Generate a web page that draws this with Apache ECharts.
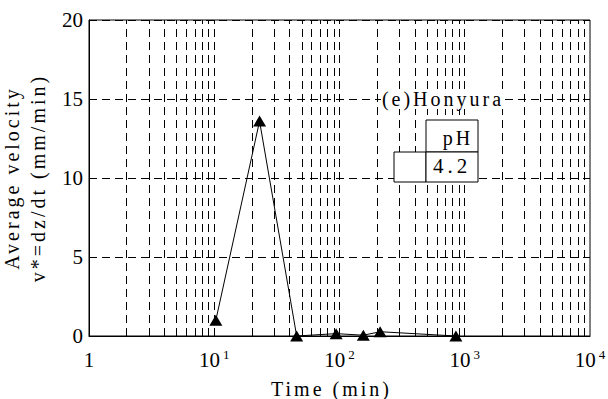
<!DOCTYPE html>
<html>
<head>
<meta charset="utf-8">
<script src="https://cdn.jsdelivr.net/npm/echarts@6/dist/echarts.min.js"></script>
<style>
html,body{margin:0;padding:0;background:#fff;}
#chart{width:608px;height:399px;}
#chart text{letter-spacing:3px;}
</style>
</head>
<body>
<div id="chart"></div>
<script>
// Data
var timeMin = [10.3, 23, 45.5, 94, 155, 211, 850];
var velocity = [1.0, 13.6, 0, 0.15, 0.05, 0.27, 0];
var yTicks = [0, 5, 10, 15, 20];
var xTickValues = [1, 10, 100, 1000, 10000];
var xTickExps = ['', '1', '2', '3', '4'];
var legendTitle = '(e)Honyura';
var tableHeader = 'pH';
var tableValue = '4.2';

// vertical grid lines at every 2..10 x 10^k
var vLines = [];
for (var k = 0; k < 4; k++) {
  for (var m = 2; m <= 10; m++) {
    var v = m * Math.pow(10, k);
    if (v < 10000) vLines.push({xAxis: v});
  }
}

var serif = 'Liberation Serif';
var chart = echarts.init(document.getElementById('chart'), null, {renderer: 'svg'});
var dash = [8, 5];
chart.setOption({
  animation: false,
  backgroundColor: '#fff',
  textStyle: {fontFamily: serif},
  grid: {left: 89, right: 18, top: 20, bottom: 63, containLabel: false, outerBoundsMode: 'none',
    show: true, borderColor: '#000', borderWidth: 1, backgroundColor: 'transparent'},
  xAxis: {
    type: 'log', logBase: 10, min: 1, max: 10000,
    axisLine: {show: true, lineStyle: {color: '#000', width: 1}},
    axisTick: {show: false},
    splitLine: {show: false},
    axisLabel: {
      margin: 12,
      fontFamily: serif,
      formatter: function (val) {
        var i = xTickValues.indexOf(Math.round(val));
        if (i <= 0) return '{b|1}';
        return '{b|10}{s|' + xTickExps[i] + '}';
      },
      rich: {
        b: {fontFamily: serif, fontSize: 21, color: '#000', verticalAlign: 'bottom', lineHeight: 22},
        s: {fontFamily: serif, fontSize: 13, color: '#000', verticalAlign: 'top', lineHeight: 22, padding: [0, 0, 9, 3]}
      }
    },
    name: 'Time (min)', nameLocation: 'middle', nameGap: 43,
    nameTextStyle: {fontFamily: serif, fontSize: 20, color: '#000', padding: [0, 16, 0, 0]}
  },
  yAxis: {
    type: 'value', min: 0, max: 20, interval: 5,
    axisLine: {show: true, lineStyle: {color: '#000', width: 1}},
    axisTick: {show: false},
    splitLine: {show: true, lineStyle: {color: '#000', width: 1, type: dash}},
    axisLabel: {fontFamily: serif, fontSize: 21, color: '#000', margin: 6},
    name: 'Average velocity\nv*=dz/dt (mm/min)', nameLocation: 'middle', nameGap: 29, nameRotate: 90,
    nameTextStyle: {fontFamily: serif, fontSize: 20, color: '#000', lineHeight: 26}
  },
  series: [{
    type: 'line',
    data: timeMin.map(function (t, i) { return [t, velocity[i]]; }),
    symbol: 'triangle', symbolSize: [13, 11], showSymbol: true,
    itemStyle: {color: '#000'},
    lineStyle: {color: '#000', width: 1},
    clip: false, z: 5,
    markLine: {
      silent: true, symbol: ['none', 'none'], label: {show: false},
      lineStyle: {color: '#000', width: 1, type: dash},
      emphasis: {disabled: true},
      data: vLines, z: 1
    }
  }],
  graphic: [
    {type: 'rect', z: 100, shape: {x: 381, y: 89, width: 122, height: 20}, style: {fill: '#fff'}},
    {type: 'text', z: 101, style: {text: legendTitle, x: 443, y: 99, align: 'center', verticalAlign: 'middle', font: '20px "Liberation Serif"', fill: '#000'}},
    {type: 'rect', z: 100, shape: {x: 426, y: 120, width: 52, height: 32}, style: {fill: '#fff', stroke: '#000', lineWidth: 1}},
    {type: 'rect', z: 100, shape: {x: 394, y: 152, width: 32, height: 30}, style: {fill: '#fff', stroke: '#000', lineWidth: 1}},
    {type: 'rect', z: 100, shape: {x: 426, y: 152, width: 52, height: 30}, style: {fill: '#fff', stroke: '#000', lineWidth: 1}},
    {type: 'text', z: 101, style: {text: tableHeader, x: 458, y: 138, align: 'center', verticalAlign: 'middle', font: '20px "Liberation Serif"', fill: '#000'}},
    {type: 'text', z: 101, style: {text: tableValue, x: 452, y: 166, align: 'center', verticalAlign: 'middle', font: '21px "Liberation Serif"', fill: '#000'}}
  ]
});

// numeric tick labels are drawn without extra letter spacing
function fixSpacing() {
  var texts = document.querySelectorAll('#chart text');
  for (var i = 0; i < texts.length; i++) {
    var s = texts[i].textContent;
    if (s === tableValue) texts[i].style.letterSpacing = '4px';
    else if (/^[0-9]+$/.test(s)) texts[i].style.letterSpacing = '0px';
  }
}
fixSpacing();
chart.on('finished', fixSpacing);
setTimeout(fixSpacing, 0);
</script>
</body>
</html>
